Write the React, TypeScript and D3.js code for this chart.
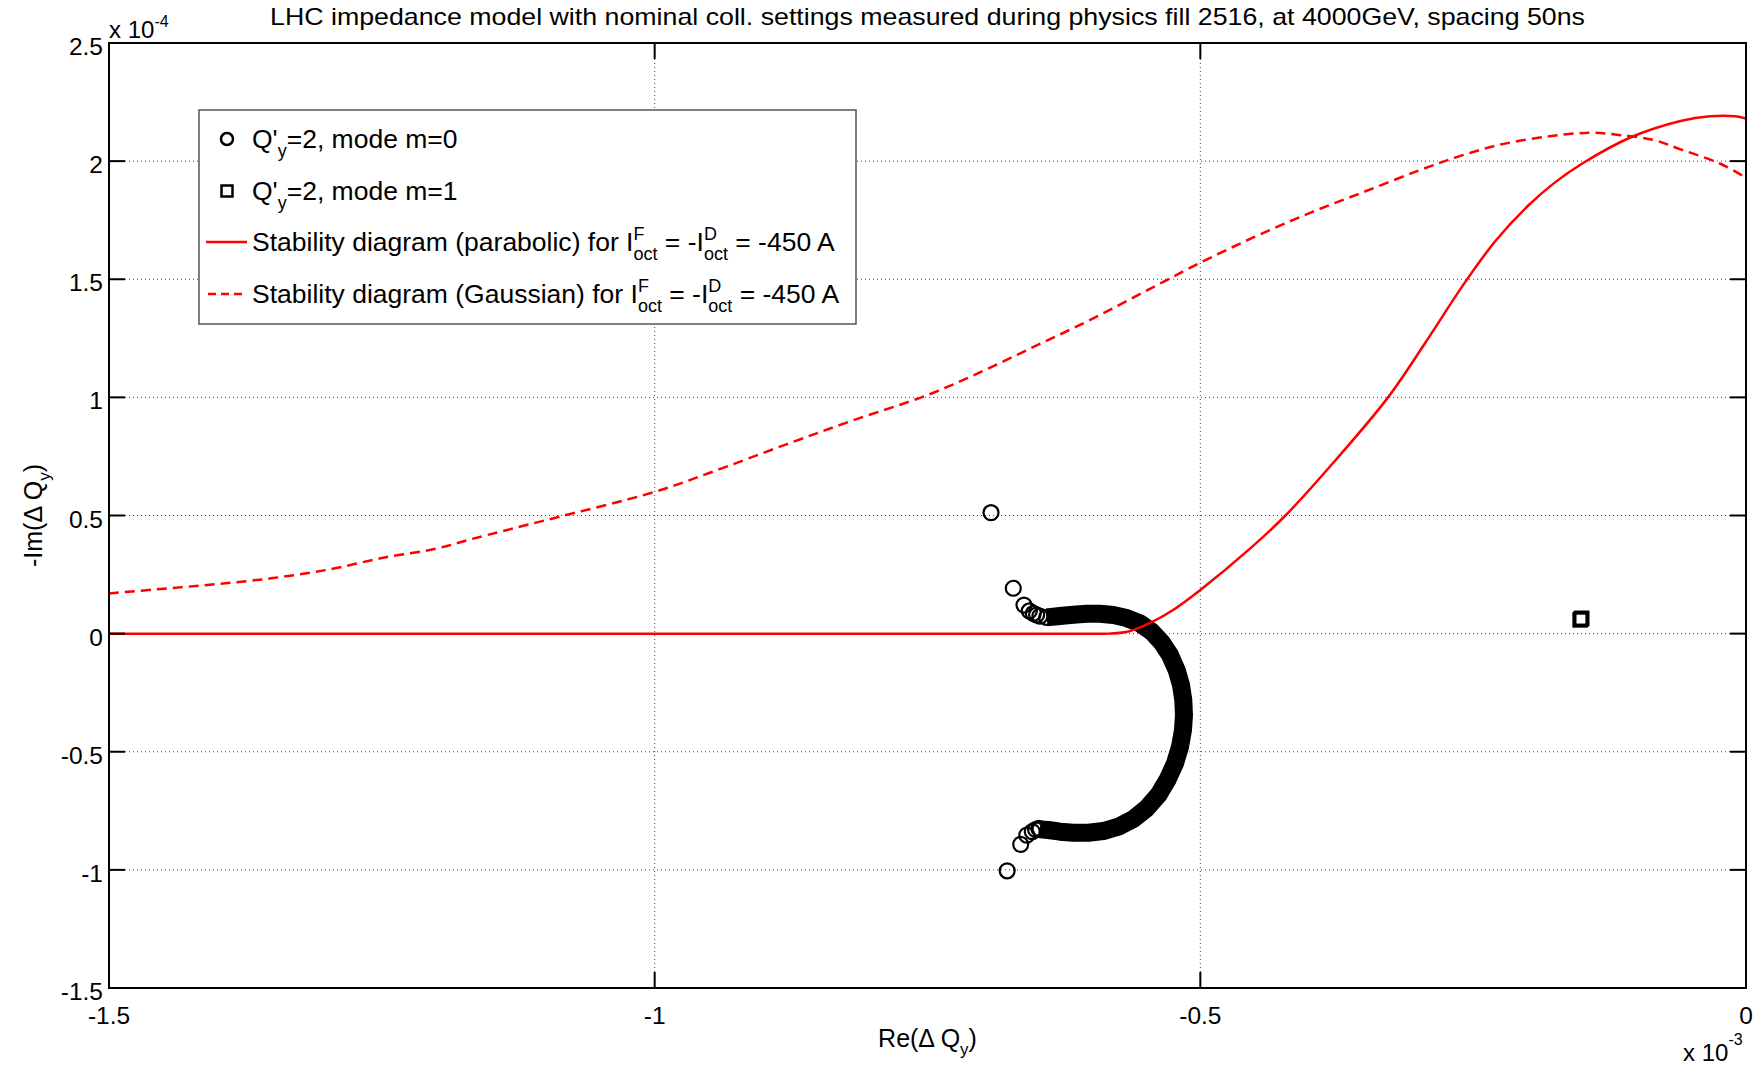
import * as d3 from "d3";

// re in units of 1e-3, im in units of 1e-4
const xTicks = [-1.5, -1, -0.5, 0];
const yTicks = [2.5, 2, 1.5, 1, 0.5, 0, -0.5, -1, -1.5];

// stability diagram (parabolic)
const parabolic: [number, number][] = [
  [-1.5, 0], [-1.2, 0], [-0.9, 0], [-0.6, 0], [-0.583, 0], [-0.565, 0.01],
  [-0.546, 0.045], [-0.525, 0.1], [-0.5, 0.185], [-0.4545, 0.36], [-0.422, 0.5],
  [-0.375, 0.74], [-0.328, 1.0], [-0.294, 1.23], [-0.26, 1.47], [-0.23, 1.66],
  [-0.2, 1.81], [-0.175, 1.91], [-0.15, 1.99], [-0.106, 2.1], [-0.06, 2.17],
  [-0.033, 2.19], [-0.01, 2.19], [0, 2.18],
];

// stability diagram (Gaussian)
const gaussian: [number, number][] = [
  [-1.5, 0.17], [-1.45, 0.19], [-1.4, 0.21], [-1.35, 0.235], [-1.3, 0.27],
  [-1.25, 0.32], [-1.2, 0.36], [-1.168, 0.4], [-1.1, 0.48], [-1.0, 0.6],
  [-0.95, 0.68], [-0.88, 0.8], [-0.82, 0.9], [-0.75, 1.01], [-0.7, 1.11],
  [-0.65, 1.22], [-0.6, 1.33], [-0.55, 1.45], [-0.5, 1.57], [-0.45, 1.68],
  [-0.4, 1.78], [-0.35, 1.87], [-0.3, 1.96], [-0.263, 2.02], [-0.225, 2.07],
  [-0.18, 2.105], [-0.143, 2.12], [-0.115, 2.11], [-0.085, 2.09], [-0.06, 2.05],
  [-0.024, 1.99], [0, 1.93],
];

// mode m=0, isolated points
const mode0Sparse: [number, number][] = [
  [-0.6918, 0.512], [-0.6714, 0.192], [-0.6616, 0.121], [-0.6567, 0.096],
  [-0.653, 0.086], [-0.65, 0.079], [-0.647, 0.074],
  [-0.648, -0.824], [-0.651, -0.829], [-0.654, -0.838], [-0.659, -0.853],
  [-0.6646, -0.892], [-0.677, -1.004],
];

// mode m=0, densely packed arc
const mode0Dense: [number, number][] = [
  [-0.6408, 0.0689], [-0.6286, 0.0745], [-0.6164, 0.0801], [-0.6041, 0.0844],
  [-0.5919, 0.0844], [-0.5797, 0.0787], [-0.5675, 0.066], [-0.5553, 0.0435],
  [-0.5446, 0.0082], [-0.5354, -0.037], [-0.5278, -0.0906], [-0.5217, -0.1541],
  [-0.5177, -0.2176], [-0.5156, -0.2811], [-0.515, -0.3446], [-0.5159, -0.408],
  [-0.5186, -0.4786], [-0.5232, -0.5491], [-0.5299, -0.6169], [-0.5385, -0.6832],
  [-0.5492, -0.7396], [-0.5614, -0.7848], [-0.5751, -0.8172], [-0.5889, -0.8356],
  [-0.6026, -0.8426], [-0.6164, -0.8426], [-0.6286, -0.8384], [-0.6393, -0.8313],
  [-0.6469, -0.8285],
];

// mode m=1
const mode1: [number, number][] = [
  [-0.152, 0.058], [-0.1512, 0.062], [-0.1505, 0.065],
];

const W = 1760;
const H = 1068;
const margin = { left: 109, top: 43, right: 14, bottom: 80 };
const FONT = "'Liberation Sans', Arial, Helvetica, sans-serif";

const App = () => {
  const x = d3.scaleLinear().domain([-1.5, 0]).range([margin.left, W - margin.right]);
  const y = d3.scaleLinear().domain([-1.5, 2.5]).range([H - margin.bottom, margin.top]);
  const x0 = margin.left;
  const x1 = W - margin.right;
  const y0 = H - margin.bottom;
  const y1 = margin.top;
  const tick = 16;

  const line = d3.line<[number, number]>().x(d => x(d[0])).y(d => y(d[1]));
  const smooth = d3.line<[number, number]>().x(d => x(d[0])).y(d => y(d[1]))
    .curve(d3.curveCatmullRom.alpha(0.5));

  // legend placement
  const lg = { x: 199, y: 110, w: 657, h: 214 };
  const rows = [139, 191, 242, 294];
  const mx = 227;
  const lf = 26.5; // legend font
  const sf = 18; // legend sub/superscript

  return (
    <svg width={W} height={H} style={{ position: "absolute", left: 0, top: 0, background: "#fff" }}
      fontFamily={FONT}>
      <defs>
        <clipPath id="plot">
          <rect x={x0} y={y1} width={x1 - x0} height={y0 - y1} />
        </clipPath>
      </defs>
      <rect x={0} y={0} width={W} height={H} fill="#fff" />

      {/* grid */}
      {xTicks.map(t => (
        <line key={"gx" + t} x1={x(t)} x2={x(t)} y1={y1} y2={y0}
          stroke="#444" strokeWidth={1} strokeDasharray="1,3" />
      ))}
      {yTicks.map(t => (
        <line key={"gy" + t} x1={x0} x2={x1} y1={y(t)} y2={y(t)}
          stroke="#444" strokeWidth={1} strokeDasharray="1,3" />
      ))}

      <g clipPath="url(#plot)">
        {/* mode m=0 */}
        <path d={line(mode0Dense) ?? ""} fill="none" stroke="#000" strokeWidth={18}
          strokeLinejoin="round" />
        {mode0Dense.concat(mode0Sparse).map((d, i) => (
          <circle key={"c" + i} cx={x(d[0])} cy={y(d[1])} r={7.5} fill="none"
            stroke="#000" strokeWidth={2.2} />
        ))}
        {/* mode m=1 */}
        {mode1.map((d, i) => (
          <rect key={"s" + i} x={x(d[0]) - 6.5} y={y(d[1]) - 6.5} width={13} height={13}
            fill="none" stroke="#000" strokeWidth={2.5} />
        ))}
        {/* stability diagrams */}
        <path d={smooth(parabolic) ?? ""} fill="none" stroke="#ff0000" strokeWidth={2.5} />
        <path d={smooth(gaussian) ?? ""} fill="none" stroke="#ff0000" strokeWidth={2.5}
          strokeDasharray="10,6" />
      </g>

      {/* axes box */}
      <rect x={x0} y={y1} width={x1 - x0} height={y0 - y1} fill="none" stroke="#000" strokeWidth={2} />
      {xTicks.map(t => (
        <g key={"tx" + t}>
          <line x1={x(t)} x2={x(t)} y1={y0} y2={y0 - tick} stroke="#000" strokeWidth={2} />
          <line x1={x(t)} x2={x(t)} y1={y1} y2={y1 + tick} stroke="#000" strokeWidth={2} />
          <text x={x(t)} y={y0 + 36} fontSize={24.5} textAnchor="middle">{String(t)}</text>
        </g>
      ))}
      {yTicks.map(t => (
        <g key={"ty" + t}>
          <line x1={x0} x2={x0 + tick} y1={y(t)} y2={y(t)} stroke="#000" strokeWidth={2} />
          <line x1={x1} x2={x1 - tick} y1={y(t)} y2={y(t)} stroke="#000" strokeWidth={2} />
          <text x={x0 - 6} y={y(t) + 12} fontSize={24.5} textAnchor="end">{String(t)}</text>
        </g>
      ))}

      {/* exponent labels */}
      <text x={x0} y={38} fontSize={24}>x 10<tspan fontSize={16} dy={-11}>-4</tspan></text>
      <text x={1683} y={1061} fontSize={24}>x 10<tspan fontSize={16} dy={-16}>-3</tspan></text>

      {/* title */}
      <text x={(x0 + x1) / 2} y={25} fontSize={24} textAnchor="middle" textLength={1315}
        lengthAdjust="spacingAndGlyphs">
        LHC impedance model with nominal coll. settings measured during physics fill 2516, at 4000GeV, spacing 50ns
      </text>

      {/* axis labels */}
      <text x={(x0 + x1) / 2} y={1047} fontSize={25} textAnchor="middle">
        Re(Δ Q<tspan fontSize={17} dy={8}>y</tspan><tspan dy={-8}>)</tspan>
      </text>
      <text transform={`translate(42, ${(y0 + y1) / 2}) rotate(-90)`} fontSize={25} textAnchor="middle">
        -Im(Δ Q<tspan fontSize={17} dy={8}>y</tspan><tspan dy={-8}>)</tspan>
      </text>

      {/* legend */}
      <rect x={lg.x} y={lg.y} width={lg.w} height={lg.h} fill="#fff" stroke="#555" strokeWidth={1.5} />
      <circle cx={mx} cy={rows[0]} r={6} fill="none" stroke="#000" strokeWidth={2.5} />
      <rect x={mx - 5.5} y={rows[1] - 5.5} width={11} height={11} fill="none" stroke="#000" strokeWidth={2.5} />
      <line x1={206} x2={247} y1={rows[2]} y2={rows[2]} stroke="#ff0000" strokeWidth={2.5} />
      <line x1={208} x2={247} y1={rows[3]} y2={rows[3]} stroke="#ff0000" strokeWidth={2.5}
        strokeDasharray="8,5" />
      <text x={252} y={rows[0] + 9} fontSize={lf}>
        Q'<tspan fontSize={sf} dy={9}>y</tspan><tspan dy={-9}>=2, mode m=0</tspan>
      </text>
      <text x={252} y={rows[1] + 9} fontSize={lf}>
        Q'<tspan fontSize={sf} dy={9}>y</tspan><tspan dy={-9}>=2, mode m=1</tspan>
      </text>
      {["parabolic", "Gaussian"].map((name, i) => (
        <text key={name} x={252} y={rows[2 + i] + 9} fontSize={lf}>
          Stability diagram ({name}) for I
          <tspan fontSize={sf} dy={-11}>F</tspan>
          <tspan fontSize={sf} dx={-11} dy={20}>oct</tspan>
          <tspan dy={-9}> = -I</tspan>
          <tspan fontSize={sf} dy={-11}>D</tspan>
          <tspan fontSize={sf} dx={-13} dy={20}>oct</tspan>
          <tspan dy={-9}> = -450 A</tspan>
        </text>
      ))}
    </svg>
  );
};

export default App;
